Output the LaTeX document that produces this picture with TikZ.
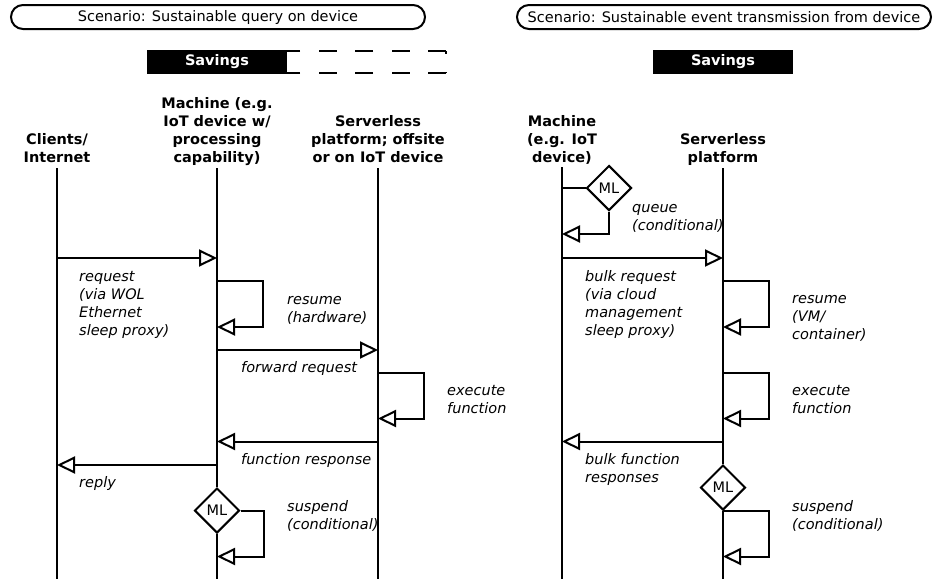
\documentclass[tikz,border=0pt]{standalone}
\usepackage{fontspec}
\setmainfont{DejaVu Sans}
\usetikzlibrary{arrows.meta,shapes.geometric}
\begin{document}
\begin{tikzpicture}[x=1pt,y=-1pt,
  every node/.style={font=\fontsize{14.5pt}{18pt}\selectfont, inner sep=0pt},
  ln/.style={line width=2pt},
  msg/.style={line width=2pt, -{Triangle[open,length=18pt,width=17pt]}},
  hdr/.style={font=\fontsize{14.5pt}{18pt}\selectfont\bfseries, align=center, anchor=base},
  lab/.style={font=\fontsize{14.5pt}{18pt}\selectfont\itshape, align=left, anchor=base west},
  scen/.style={draw, line width=2pt, rounded corners=12pt, minimum width=414pt, minimum height=24pt},
  sav/.style={fill=black, text=white, font=\fontsize{14.5pt}{18pt}\selectfont\bfseries, minimum width=140pt, minimum height=24pt},
  ml/.style={draw, diamond, line width=2pt, minimum size=45pt, inner sep=0pt}]
\useasboundingbox (0,0) rectangle (935,582);

% scenario titles and savings bars
\node[scen] (scA) at (218,17) {Scenario: Sustainable query on device};
\node[scen] (scB) at (724,17) {Scenario: Sustainable event transmission from device};
\node[sav] (savA) at (217,62) {Savings};
\node[sav] (savB) at (723,62) {Savings};
\coordinate (dT) at (446,51);
\coordinate (dB) at (446,73);
\draw[line width=2pt, dash pattern=on 18pt off 18.5pt] (dT) -- (savA.east |- dT);
\draw[line width=2pt, dash pattern=on 18pt off 18.5pt] (dB) -- (savA.east |- dB);
\draw[line width=2pt, dash pattern=on 3pt off 18pt] (dT) -- (dB);

% headers (anchor = baseline of last line)
\node[hdr] (hC) at (57,162) {Clients/\\Internet};
\node[hdr] (hM) at (217,162) {Machine (e.g.\\IoT device w/\\processing\\capability)};
\node[hdr] (hS) at (378,162) {Serverless\\platform; offsite\\or on IoT device};
\node[hdr] (hM2) at (562,162) {Machine\\(e.g. IoT\\device)};
\node[hdr] (hS2) at (723,162) {Serverless\\platform};

% lifeline ends
\coordinate (tA1) at (57,168);  \coordinate (bA1) at (57,579);
\coordinate (tA2) at (217,168); \coordinate (bA2) at (217,579);
\coordinate (tA3) at (378,168); \coordinate (bA3) at (378,579);
\coordinate (tB1) at (562,167); \coordinate (bB1) at (562,579);
\coordinate (tB2) at (723,168); \coordinate (bB2) at (723,579);

% decision diamonds
\node[ml] (ml1) at (217,510.5) {ML};
\node[ml] (ml2) at (609,188) {ML};
\node[ml] (ml3) at (723,487.5) {ML};

% lifelines
\draw[ln] (tA1) -- (bA1);
\draw[ln] (tA2) -- (ml1.north);
\draw[ln] (ml1.south) -- (bA2);
\draw[ln] (tA3) -- (bA3);
\draw[ln] (tB1) -- (bB1);
\draw[ln] (tB2) -- (ml3.north);
\draw[ln] (ml3.south) -- (bB2);

% left scenario messages
\coordinate (r1) at (57,258);    \coordinate (r2) at (217,258);
\coordinate (s1) at (217,281);   \coordinate (s2) at (217,327);
\coordinate (f1) at (217,350);   \coordinate (f2) at (378,350);
\coordinate (e1) at (378,372.5); \coordinate (e2) at (378,418.5);
\coordinate (g1) at (378,441.5); \coordinate (g2) at (217,441.5);
\coordinate (h1) at (217,465);   \coordinate (h2) at (57,465);
\coordinate (u2) at (217,556.5);
\draw[msg] (r1) -- (r2);
\draw[msg] (s1) -- ++(46,0) |- (s2);
\draw[msg] (f1) -- (f2);
\draw[msg] (e1) -- ++(46,0) |- (e2);
\draw[msg] (g1) -- (g2);
\draw[msg] (h1) -- (h2);
\draw[msg] (ml1.east) -- ++(23,0) |- (u2);

% right scenario messages
\coordinate (q0) at (562,188);   \coordinate (q2) at (562,234);
\coordinate (br1) at (562,258);  \coordinate (br2) at (723,258);
\coordinate (rs1) at (723,281);  \coordinate (rs2) at (723,327);
\coordinate (ex1) at (723,372.5);\coordinate (ex2) at (723,418.5);
\coordinate (bf1) at (723,441.5);\coordinate (bf2) at (562,441.5);
\coordinate (su2) at (723,556.5);
\draw[ln] (q0) -- (ml2.west);
\draw[msg] (ml2.south) |- (q2);
\draw[msg] (br1) -- (br2);
\draw[msg] (rs1) -- ++(46,0) |- (rs2);
\draw[msg] (ex1) -- ++(46,0) |- (ex2);
\draw[msg] (bf1) -- (bf2);
\draw[msg] (ml3.south) -- ++(46,0) |- (su2);

% labels (anchor = baseline of last line)
\node[lab] (lreq) at (79,335) {request\\(via WOL\\Ethernet\\sleep proxy)};
\node[lab] (lres) at (287,322) {resume\\(hardware)};
\node[lab] (lfwd) at (241,372) {forward request};
\node[lab] (lexe) at (447,413.5) {execute\\function};
\node[lab] (lfr) at (241,464) {function response};
\node[lab] (lrep) at (79,487) {reply};
\node[lab] (lsus) at (287,529) {suspend\\(conditional)};
\node[lab] (lq) at (632,230) {queue\\(conditional)};
\node[lab] (lbr) at (585,335) {bulk request\\(via cloud\\management\\sleep proxy)};
\node[lab] (lres2) at (792,339) {resume\\(VM/\\container)};
\node[lab] (lexe2) at (792,413.5) {execute\\function};
\node[lab] (lbf) at (585,482) {bulk function\\responses};
\node[lab] (lsus2) at (792,529) {suspend\\(conditional)};
\end{tikzpicture}
\end{document}
